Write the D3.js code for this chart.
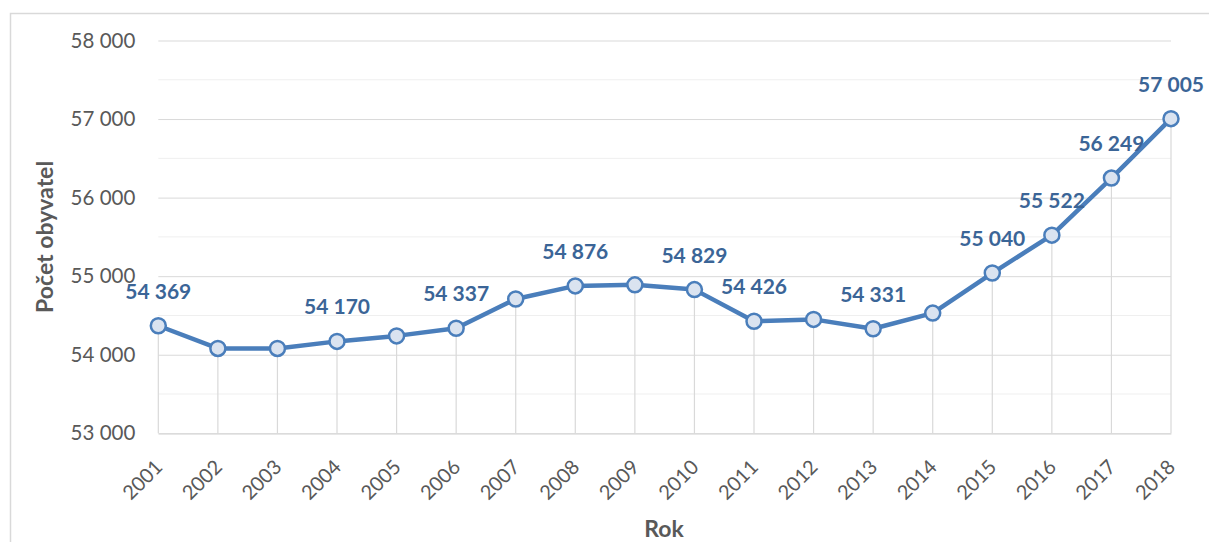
<!DOCTYPE html>
<html>
<head>
<meta charset="utf-8">
<script src="https://cdn.jsdelivr.net/npm/d3@7"></script>
<style>
  html, body { margin: 0; padding: 0; background: #fff; }
  svg { display: block; }
  text { font-family: Lato, "Open Sans", sans-serif; }
</style>
</head>
<body>
<svg id="chart" width="1209" height="542"></svg>
<script>
// ---- data ----
const years = [2001, 2002, 2003, 2004, 2005, 2006, 2007, 2008, 2009, 2010, 2011, 2012, 2013, 2014, 2015, 2016, 2017, 2018];
const population = [54369, 54080, 54080, 54170, 54240, 54337, 54710, 54876, 54890, 54829, 54426, 54450, 54331, 54530, 55040, 55522, 56249, 57005];
const labelledYears = [2001, 2004, 2006, 2008, 2010, 2011, 2013, 2015, 2016, 2017, 2018];
const yTicks = [53000, 54000, 55000, 56000, 57000, 58000];
const yMinorTicks = [53500, 54500, 55500, 56500, 57500];
const xTitle = "Rok";
const yTitle = "Počet obyvatel";

// ---- layout ----
const W = 1209, H = 542;
const plot = { left: 158.3, right: 1171, top: 40.5, bottom: 433.3 };
const fmt = v => d3.format(",")(v).replace(/,/g, " ");

const svg = d3.select("#chart");

// outer chart border (cut off at right/bottom like the reference)
svg.append("rect")
  .attr("x", 10.5).attr("y", 13.5)
  .attr("width", W + 20).attr("height", H + 20)
  .attr("fill", "none").attr("stroke", "#d9d9d9").attr("stroke-width", 1.5);

const x = d3.scalePoint().domain(years).range([plot.left, plot.right]);
const y = d3.scaleLinear().domain([53000, 58000]).range([plot.bottom, plot.top]);

// minor gridlines
svg.append("g").selectAll("line").data(yMinorTicks).join("line")
  .attr("x1", plot.left).attr("x2", plot.right)
  .attr("y1", d => y(d)).attr("y2", d => y(d))
  .attr("stroke", "#efefef").attr("stroke-width", 1);

// major gridlines + y tick labels via axis
const yAxis = d3.axisLeft(y).tickValues(yTicks).tickFormat(fmt)
  .tickSize(-(plot.right - plot.left)).tickPadding(23);
const gy = svg.append("g").attr("transform", `translate(${plot.left},0)`).call(yAxis);
gy.select(".domain").remove();
gy.selectAll(".tick line").attr("stroke", "#d9d9d9").attr("stroke-width", 1);
gy.selectAll(".tick text")
  .attr("fill", "#595959").attr("font-size", 20.5).attr("font-family", "Lato, sans-serif");

// x axis with rotated labels
const xAxis = d3.axisBottom(x).tickSize(0).tickPadding(0);
const gx = svg.append("g").attr("transform", `translate(0,${plot.bottom})`).call(xAxis);
gx.select(".domain").attr("stroke", "#d9d9d9").attr("stroke-width", 1.2);
gx.selectAll(".tick text")
  .attr("fill", "#595959").attr("font-size", 20).attr("font-family", "Lato, sans-serif")
  .attr("text-anchor", "end")
  .attr("dy", null).attr("y", 0)
  .attr("transform", "translate(5,35) rotate(-45)");

// drop lines
const pts = years.map((yr, i) => ({ year: yr, value: population[i] }));
svg.append("g").selectAll("line").data(pts).join("line")
  .attr("x1", d => x(d.year)).attr("x2", d => x(d.year))
  .attr("y1", d => y(d.value)).attr("y2", plot.bottom)
  .attr("stroke", "#d9d9d9").attr("stroke-width", 1.2);

// line
const line = d3.line().x(d => x(d.year)).y(d => y(d.value));
svg.append("path").datum(pts)
  .attr("d", line)
  .attr("fill", "none").attr("stroke", "#4a7ebb").attr("stroke-width", 4.5)
  .attr("stroke-linejoin", "round");

// markers
svg.append("g").selectAll("circle").data(pts).join("circle")
  .attr("cx", d => x(d.year)).attr("cy", d => y(d.value))
  .attr("r", 7.5).attr("fill", "#dae3f0")
  .attr("stroke", "#4a7ebb").attr("stroke-width", 2.5);

// data labels
svg.append("g").selectAll("text").data(pts.filter(d => labelledYears.includes(d.year))).join("text")
  .attr("x", d => x(d.year)).attr("y", d => y(d.value) - 27)
  .attr("text-anchor", "middle")
  .attr("font-size", 21).attr("font-weight", 700)
  .attr("fill", "#3b6597")
  .text(d => fmt(d.value));

// axis titles
svg.append("text")
  .attr("x", 664).attr("y", 537)
  .attr("text-anchor", "middle")
  .attr("font-size", 23).attr("font-weight", 700).attr("fill", "#595959")
  .text(xTitle);

svg.append("text")
  .attr("transform", `translate(53,${(plot.top + plot.bottom) / 2}) rotate(-90)`)
  .attr("text-anchor", "middle")
  .attr("font-size", 23).attr("font-weight", 700).attr("fill", "#595959")
  .text(yTitle);
</script>
</body>
</html>
